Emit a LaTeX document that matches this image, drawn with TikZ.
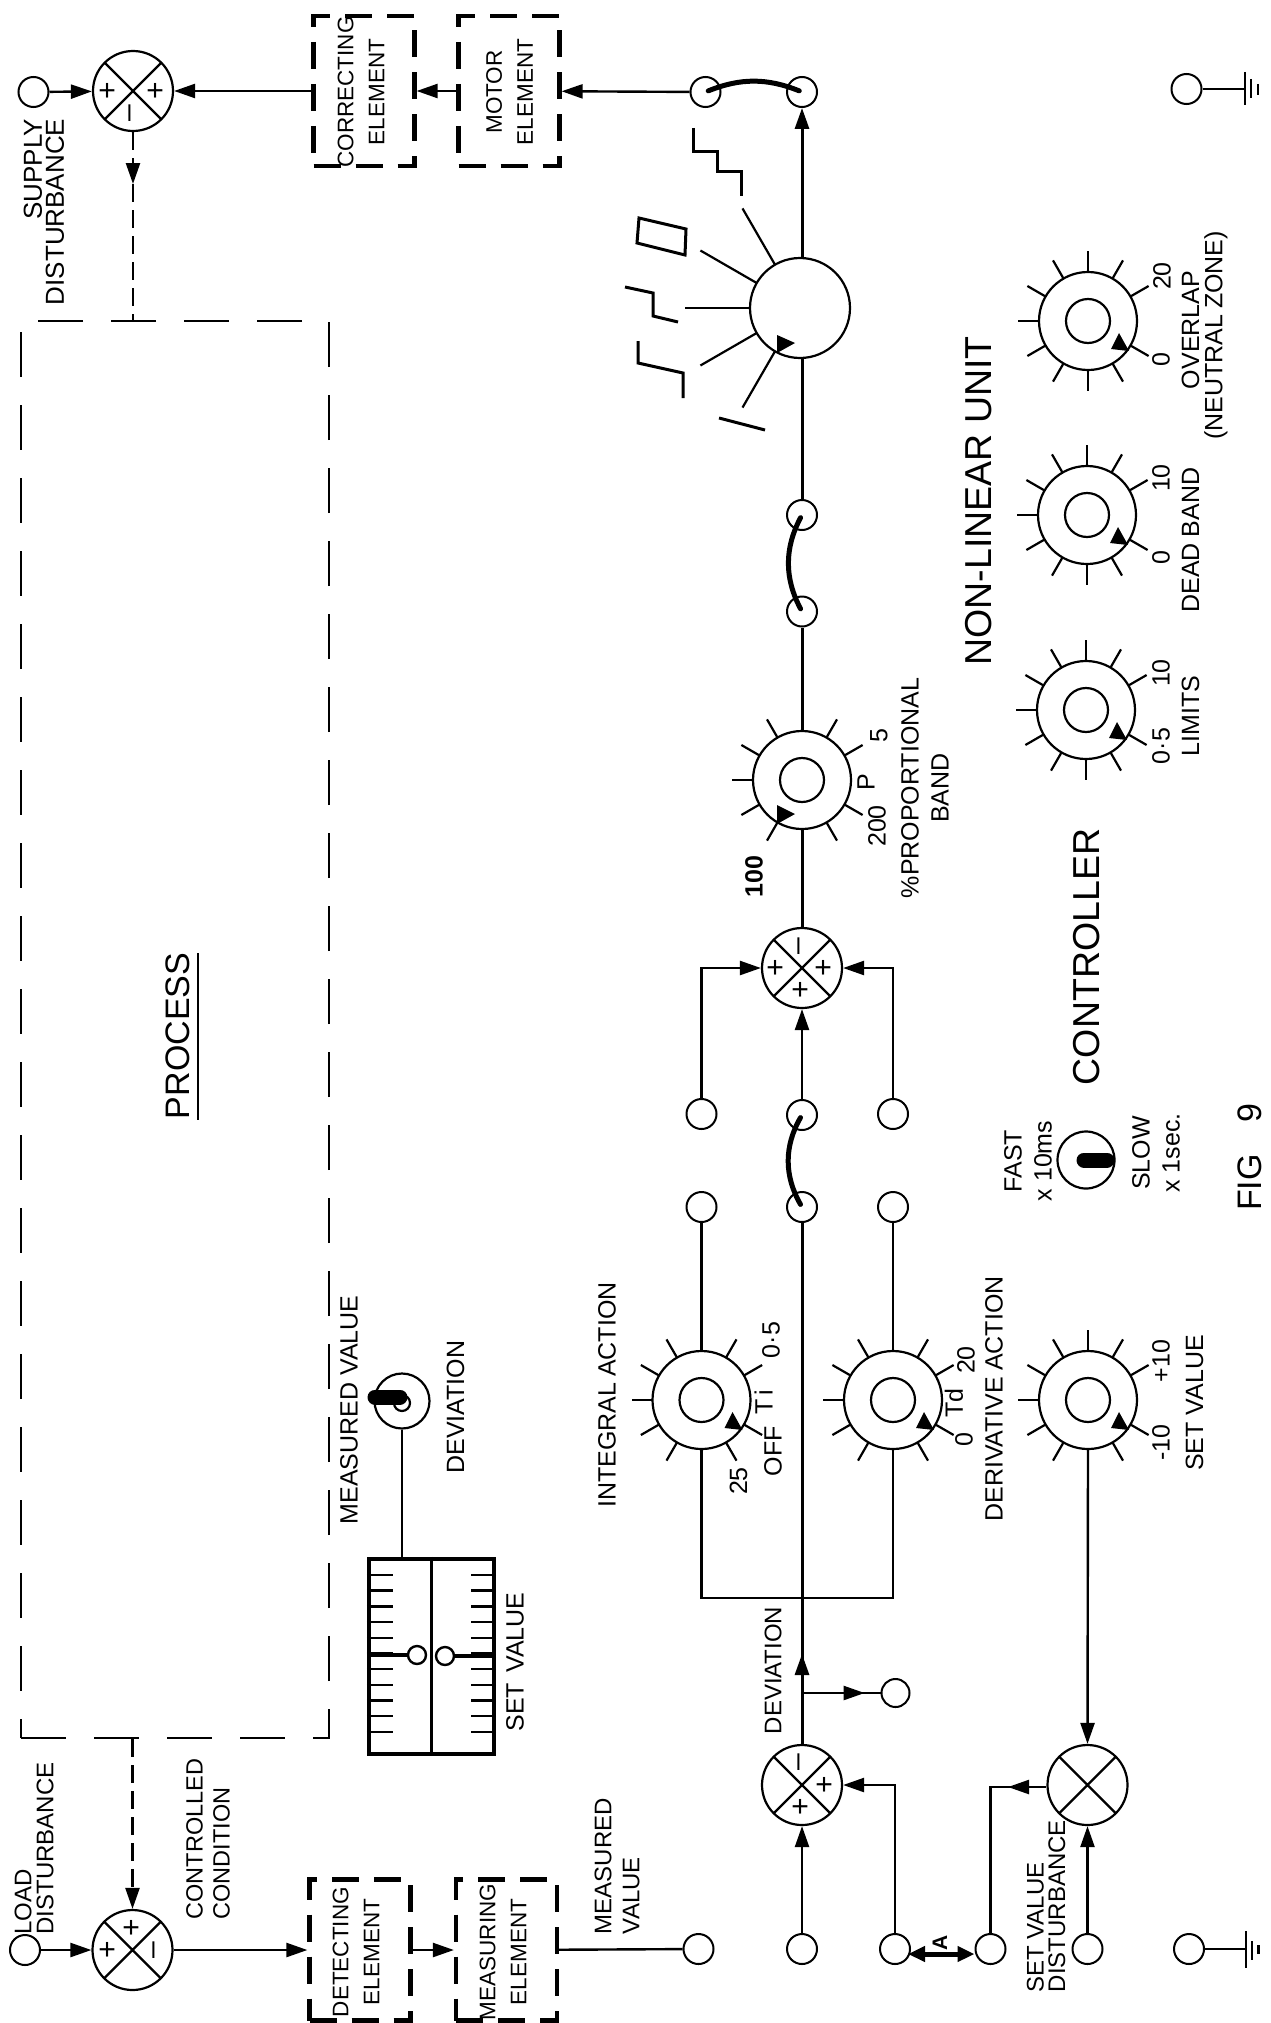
\documentclass[tikz,border=0pt]{standalone}
\usepackage{fontspec}
\setmainfont{Liberation Sans}
\usetikzlibrary{arrows.meta, calc}

\begin{document}
\begin{tikzpicture}[
    x=1pt, y=-1pt,
    wire/.style={line width=2.4pt},
    arr/.style={-{Triangle[length=21pt, width=14pt]}, line width=2.4pt},
    terminal/.style={circle, draw, minimum size=30pt, inner sep=0pt, line width=2pt},
    sumnode/.style={circle, draw, minimum size=80pt, inner sep=0pt, line width=2.2pt,
        path picture={\draw[line width=2.2pt] (path picture bounding box.north west) -- (path picture bounding box.south east)
            (path picture bounding box.north east) -- (path picture bounding box.south west);}},
    sign/.style={rotate=90, inner sep=0pt, font=\fontsize{30}{30}\selectfont},
    dialring/.style={circle, draw, minimum size=98pt, inner sep=0pt, line width=2.2pt},
    dialhub/.style={circle, draw, minimum size=44pt, inner sep=0pt, line width=2.2pt},
    tick/.style={line width=2.2pt},
    elementbox/.style={rectangle, draw, line width=4.2pt, dash pattern=on 27pt off 15pt, minimum width=101pt, minimum height=#1},
    processbox/.style={rectangle, draw, line width=2.2pt, dash pattern=on 45pt off 28pt, minimum width=308pt, minimum height=1417pt},
    linkarc/.style={line width=5pt, line cap=round},
    toggle/.style={line width=15pt, line cap=round},
    lbl/.style={rotate=90, inner sep=0pt, align=center, font=\fontsize{25}{30}\selectfont},
    boxlbl/.style={lbl, font=\fontsize{22.5}{31}\selectfont},
    heading/.style={lbl, font=\fontsize{37.5}{40}\selectfont},
]
    \useasboundingbox (0,0) rectangle (1271,2023);

    % Top row
    \node[terminal] (tsupply) at (33.5,92) {};
    \node[sumnode] (sumsupply) at (133,91) {};
    \node[elementbox=150pt] (correcting) at (364,91) {};
    \node[elementbox=150pt] (motor) at (509,91) {};
    \node[terminal] (tmotora) at (705.5,92) {};
    \node[terminal] (tmotorb) at (802,92) {};
    \node[terminal] (tgndtop) at (1186.5,89) {};
    \coordinate (gndtop) at (1245,89);
    \node[lbl, align=right, font=\fontsize{26}{22}\selectfont] (lsupply) at (44,212) {SUPPLY\\DISTURBANCE};
    \node[boxlbl] (lcorrecting) at (361,92) {CORRECTING\\ELEMENT};
    \node[boxlbl] (lmotor) at (509.5,92) {MOTOR\\ELEMENT};

    % Process
    \node[processbox] (process) at (175,1029.5) {};
    \node[lbl, font=\fontsize{34}{36}\selectfont] (lprocess) at (178,1036) {PROCESS};
    \coordinate (ula) at (198,953);
    \coordinate (ulb) at (198,1120);
    \coordinate (supplytip) at (133,184);
    \node[lbl] (lmeasured) at (349,1410) {MEASURED VALUE};
    \node[circle, draw, minimum size=55pt, inner sep=0pt, line width=2.2pt] (devknob) at (402,1401) {};
    \node[circle, draw, minimum size=16pt, inner sep=0pt, line width=2.2pt] (devhub) at (402,1403) {};
    \node[lbl] (ldevknob) at (455.5,1407) {DEVIATION};

    % Scale
    \node[rectangle, draw, line width=4.2pt, minimum width=125pt, minimum height=195pt] (scale) at (431.5,1656.5) {};
    \node[circle, draw, minimum size=18pt, inner sep=0pt, line width=2.4pt] (zeroa) at (417,1655) {};
    \node[circle, draw, minimum size=18pt, inner sep=0pt, line width=2.4pt] (zerob) at (445,1656) {};
    \node[lbl] (lscale) at (515,1662) {SET\hspace{10pt}VALUE};

    % Selector
    \node[circle, draw, minimum size=100pt, inner sep=0pt, line width=2.2pt] (selector) at (800,308) {};
    \coordinate (stepa) at (693,128);
    \coordinate (recta) at (639,218);
    \coordinate (zeda) at (625,287);
    \coordinate (kneea) at (638,341);
    \coordinate (slasha) at (719,418);

    % Dials
    \foreach \name/\px/\py in {overlap/1088/321, deadband/1087/515, limits/1086/710, propband/802/780,
            integral/701.5/1400, derivative/893/1400, setvalue/1088/1400} {
        \node[dialring] (\name) at (\px,\py) {};
        \node[dialhub] at (\name) {};
    }
    \foreach \name in {overlap, deadband, limits, integral, derivative, setvalue}
        \fill ($(\name)+(31,12)$) -- ($(\name)+(23,28)$) -- ($(\name)+(41,30)$) -- cycle;
    \fill ($(propband)+(-25,25)$) -- ($(propband)+(-7,34)$) -- ($(propband)+(-25,44)$) -- cycle;
    \fill ($(selector)+(-23,27)$) -- ($(selector)+(-5,35)$) -- ($(selector)+(-23,45)$) -- cycle;
    \foreach \name in {overlap, deadband, limits, propband, integral, derivative, setvalue}
        \foreach \a in {30,60,120,150,180,210,240,300,330}
            \draw[tick] ($(\name)+(\a:49pt)$) -- ($(\name)+(\a:70pt)$);
    \foreach \name in {overlap, deadband, limits, setvalue}
        \draw[tick] ($(\name)+(90:49pt)$) -- ($(\name)+(90:70pt)$);
    \foreach \name in {overlap, deadband, limits}
        \draw[tick] ($(\name)+(270:49pt)$) -- ($(\name)+(270:70pt)$);

    % Dial labels
    \node[lbl] (l20) at (1162,276) {20};
    \node[lbl] (lo20) at (1161,360) {0};
    \node[lbl] (lover) at (1190.5,330) {OVERLAP};
    \node[lbl] (lzone) at (1216,335.5) {(NEUTRAL\hspace{6pt}ZONE)};
    \node[lbl] (l10a) at (1161,478) {10};
    \node[lbl] (lo10) at (1161,558) {0};
    \node[lbl] (ldead) at (1190.5,540) {DEAD\hspace{6pt}BAND};
    \node[lbl] (l10b) at (1161,673) {10};
    \node[lbl] (l05) at (1161,746) {0·5};
    \node[lbl] (llimits) at (1190.5,716) {LIMITS};
    \node[lbl, font=\bfseries\fontsize{25}{30}\selectfont] (l100) at (754,876.5) {100};
    \node[lbl] (l200) at (877,826) {200};
    \node[lbl] (l5) at (879,736) {5};
    \node[lbl] (lp) at (866,782) {P};
    \node[lbl] (lprop) at (925,788) {\%PROPORTIONAL\\BAND};
    \node[heading] (lnonlinear) at (979,501) {NON-LINEAR UNIT};
    \node[heading] (lcontroller) at (1087,957) {CONTROLLER};
    \node[lbl, font=\fontsize{34}{36}\selectfont] (lfig) at (1250,1157) {FIG\hspace{32pt}9};

    % Speed switch
    \node[circle, draw, minimum size=57pt, inner sep=0pt, line width=2.2pt] (speedsw) at (1086,1160) {};
    \node[lbl] (lfast) at (1028,1161) {FAST\\x 10ms};
    \node[lbl] (lslow) at (1156,1153) {SLOW\\x 1sec.};

    % Integral and derivative
    \node[terminal] (tint) at (701.5,1114) {};
    \node[terminal] (tmid) at (802,1115) {};
    \node[terminal] (tder) at (893,1114) {};
    \node[terminal] (tinta) at (701.5,1207) {};
    \node[terminal] (tmida) at (802,1207) {};
    \node[terminal] (tdera) at (893,1207) {};
    \node[terminal] (tband) at (802,515) {};
    \node[terminal] (tbandb) at (802,611.5) {};
    \node[sumnode] (sumpid) at (802,968) {};
    \coordinate (bridge) at (802,1598);
    \node[lbl] (lint) at (607,1395) {INTEGRAL\hspace{6pt}ACTION};
    \node[lbl] (l25) at (738.5,1481) {25};
    \node[lbl] (loff) at (773,1451) {OFF};
    \node[lbl] (lti) at (763.5,1402) {T\,i};
    \node[lbl] (l05b) at (771,1340) {0·5};
    \node[lbl] (ltd) at (954,1403) {Td};
    \node[lbl] (l20b) at (966,1360) {20};
    \node[lbl] (lo20b) at (964,1440) {0};
    \node[lbl] (lder) at (994,1399) {DERIVATIVE\hspace{6pt}ACTION};
    \node[lbl] (lm10) at (1161,1442.5) {-10};
    \node[lbl] (lp10) at (1161,1361) {+10};
    \node[lbl] (lsv) at (1194.5,1403) {SET VALUE};
    \node[lbl, font=\fontsize{24}{30}\selectfont] (ldev) at (773,1670.5) {DEVIATION};

    % Bottom row
    \node[terminal] (tload) at (25,1950) {};
    \node[sumnode] (sumload) at (132.5,1950) {};
    \node[elementbox=141pt] (detecting) at (360,1950) {};
    \node[elementbox=141pt] (measuring) at (506.5,1950) {};
    \node[terminal] (tmeas) at (698.5,1949) {};
    \node[terminal] (tdev) at (802,1949) {};
    \node[terminal] (tfeed) at (895,1949) {};
    \node[terminal] (tsvout) at (990.5,1949) {};
    \node[terminal] (tsvd) at (1087.5,1949) {};
    \node[terminal] (tgnd) at (1189,1949) {};
    \coordinate (gndbot) at (1246,1949);
    \node[sumnode] (sumdev) at (802,1785) {};
    \node[sumnode] (sumsv) at (1087.5,1785) {};
    \node[circle, draw, minimum size=28pt, inner sep=0pt, line width=2pt] (tbranch) at (895.5,1693) {};
    \coordinate (branch) at (802,1693);
    \coordinate (devtip) at (802,1654);
    \coordinate (svtip) at (1008,1787);
    \coordinate (svcorner) at (990.5,1787);
    \node[lbl, align=left, font=\fontsize{24}{22}\selectfont] (lload) at (34,1848.5) {LOAD\\DISTURBANCE};
    \node[lbl, align=left, font=\fontsize{23.5}{27}\selectfont] (lcond) at (208,1839) {CONTROLLED\\CONDITION};
    \node[boxlbl] (ldetect) at (356,1952) {DETECTING\\ELEMENT};
    \node[boxlbl] (lmeasur) at (503,1952) {MEASURING\\ELEMENT};
    \node[lbl, align=left, font=\fontsize{24}{28}\selectfont] (lmv) at (617,1866) {MEASURED\\VALUE};
    \node[lbl, align=left, font=\fontsize{24}{21.5}\selectfont] (lsvd) at (1046,1906) {SET\hspace{6pt}VALUE\\DISTURBANCE};
    \node[lbl, font=\bfseries\fontsize{21}{24}\selectfont] (la) at (940,1943) {A};

    % Signs
    \node[sign] at ($(sumsupply)+(-24,0)$) {+};
    \node[sign] at ($(sumsupply)+(24,0)$) {+};
    \node[sign] at ($(sumsupply)+(0,22)$) {--};
    \node[sign] at ($(sumload)+(0,-22)$) {+};
    \node[sign] at ($(sumload)+(-24,0)$) {+};
    \node[sign] at ($(sumload)+(25,0)$) {--};
    \node[sign] at ($(sumpid)+(-25,0)$) {+};
    \node[sign] at ($(sumpid)+(23,0)$) {+};
    \node[sign] at ($(sumpid)+(0,22)$) {+};
    \node[sign] at ($(sumpid)+(0,-22)$) {--};
    \node[sign] at ($(sumdev)+(0,-23)$) {--};
    \node[sign] at ($(sumdev)+(24,0)$) {+};
    \node[sign] at ($(sumdev)+(0,22)$) {+};

    % Top connections
    \draw[arr] (tsupply) -- (sumsupply);
    \draw[arr] (correcting) -- (sumsupply);
    \draw[arr] (motor) -- (correcting);
    \draw[arr] (tmotora) -- (motor);
    \draw[linkarc, shorten <=3pt, shorten >=3pt] (tmotora.center) to[bend left=22] (tmotorb.center);
    \draw[arr, line width=3pt] (selector.north -| tmotorb) -- (tmotorb.south);
    \draw[wire] (tgndtop) -- (gndtop);
    \draw[wire] ($(gndtop)+(0,-17)$) -- ($(gndtop)+(0,16)$);
    \draw[wire] ($(gndtop)+(6,-10)$) -- ($(gndtop)+(6,9)$);
    \draw[wire] ($(gndtop)+(13,-5)$) -- ($(gndtop)+(13,6)$);

    % Process connections
    \draw[wire, dash pattern=on 18pt off 8pt] (sumsupply.south) -- (sumsupply |- process.north);
    \draw[arr, dash pattern=on 18pt off 8pt] (sumsupply.south) -- (supplytip);
    \draw[arr, dash pattern=on 18pt off 8pt] (sumload |- process.south) -- (sumload.north);
    \draw[line width=2.6pt] (ula) -- (ulb);
    \draw[wire] (devknob.south) -- (devknob.south |- scale.north);
    \draw[toggle] ($(devknob)+(-27,-4)$) -- ($(devknob)+(-2,-4)$);
    \draw[toggle] ($(speedsw)+(-2,0)$) -- ($(speedsw)+(21,0)$);

    % Scale ticks
    \draw[wire] (scale.north) -- (scale.south);
    \foreach \i in {0,...,10} {
        \draw[wire] ($(scale.north west)+(0,{18+15.7*\i})$) -- ++(26,0);
        \draw[wire] ($(scale.north east)+(0,{18+15.7*\i})$) -- ++(-25,0);
    }
    \draw[line width=3.6pt] (scale.west |- zeroa) -- (zeroa.west);
    \draw[line width=3.6pt] (scale.east |- zerob) -- (zerob.east);

    % Selector spokes and wave forms
    \foreach \a in {120,150,180,210,240}
        \draw[tick] ($(selector)+(\a:50pt)$) -- ($(selector)+(\a:115pt)$);
    \draw[line width=3pt] (stepa) -- ++(0,23) -- ++(24,0) -- ++(0,20) -- ++(24,0) -- ++(0,25);
    \draw[line width=3pt] (recta) -- ++(47,11) -- ++(-1,26) -- ++(-48,-12) -- cycle;
    \draw[line width=3pt] (zeda) -- ++(28,6) -- ++(0,23) -- ++(25,6);
    \draw[line width=3pt] (kneea) -- ++(0,22) -- ++(45,10) -- ++(0,25);
    \draw[line width=3pt] (slasha) -- ++(46,12);

    % Main line
    \draw[line width=3pt] (selector.south -| tband) -- (tband.north);
    \draw[linkarc, shorten <=3pt, shorten >=3pt] (tband.center) to[bend right=28] (tbandb.center);
    \draw[line width=3pt] (tbandb.south) -- (propband.north);
    \draw[line width=3pt] (propband.south) -- (sumpid.north);
    \draw[arr] (tint.north) |- (sumpid.west);
    \draw[arr] (tder.north) |- (sumpid.east);
    \draw[arr] (tmid.north) -- (sumpid.south);
    \draw[linkarc, shorten <=3pt, shorten >=3pt] (tmid.center) to[bend right=30] (tmida.center);
    \draw[wire] (tinta.south) -- (integral.north);
    \draw[wire] (tdera.south) -- (derivative.north);
    \draw[wire] (integral.south) |- (bridge) -| (derivative.south);
    \draw[line width=3pt] (sumdev.north) -- (tmida.south);
    \draw[arr, line width=3pt] (sumdev.north) -- (devtip);
    \draw[wire] (branch) -- (tbranch);
    \draw[arr] (branch) -- ($(branch)!0.67!(tbranch)$);

    % Bottom connections
    \draw[arr] (tload) -- (sumload);
    \draw[arr] (sumload) -- (detecting);
    \draw[arr] (detecting) -- (measuring);
    \draw[wire] (measuring) -- (tmeas);
    \draw[arr] (tdev) -- (sumdev);
    \draw[arr] (tfeed.north) |- (sumdev.east);
    \draw[wire] (sumsv.west |- svcorner) -- (svcorner) -- (tsvout.north);
    \draw[arr] (sumsv.west |- svcorner) -- (svtip);
    \draw[arr] (setvalue.south) -- (sumsv.north);
    \draw[arr] (tsvd) -- (sumsv);
    \draw[{Triangle[length=17pt, width=15pt]}-{Triangle[length=17pt, width=15pt]}, line width=5pt]
        ($(tfeed.center)+(13,5)$) -- ($(tsvout.center)+(-16,5)$);
    \draw[wire] (tgnd) -- (gndbot);
    \draw[wire] ($(gndbot)+(0,-18)$) -- ($(gndbot)+(0,19)$);
    \draw[wire] ($(gndbot)+(6,-8)$) -- ($(gndbot)+(6,11)$);
    \draw[wire] ($(gndbot)+(12.5,-4)$) -- ($(gndbot)+(12.5,5)$);

\end{tikzpicture}
\end{document}
